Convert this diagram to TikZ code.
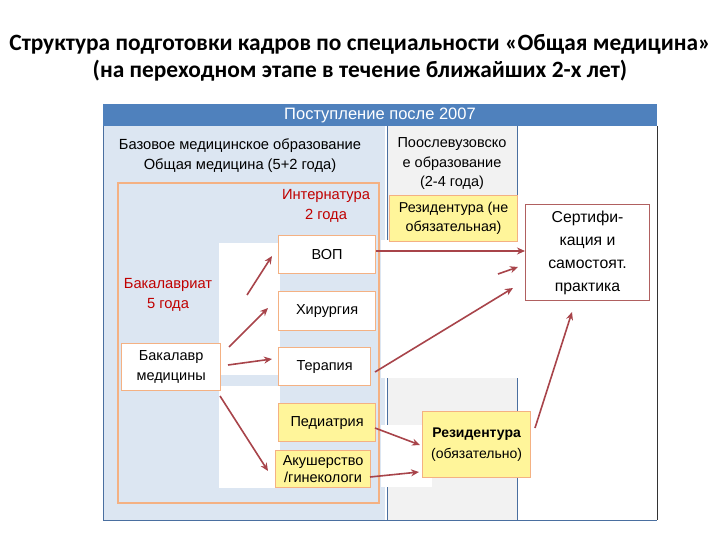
\documentclass[tikz,border=0pt]{standalone}
\usepackage{fontspec}
\setmainfont{Liberation Sans}
\newfontfamily\titlefont{Carlito}
\usetikzlibrary{arrows.meta}
\definecolor{hdrblue}{HTML}{4F81BD}
\definecolor{colblue}{HTML}{DCE6F2}
\definecolor{colgray}{HTML}{F2F2F2}
\definecolor{lineblue}{HTML}{4A6FA0}
\definecolor{orng}{HTML}{F4B183}
\definecolor{yel}{HTML}{FFF59A}
\definecolor{arr}{HTML}{A8444A}
\definecolor{redtxt}{HTML}{C00000}
\definecolor{certb}{HTML}{B06060}
\tikzset{
  specbox/.style={draw=orng, line width=1.2pt, fill=white, anchor=north west, inner sep=0pt, font=\fontsize{14.5}{17}\selectfont},
  yelbox/.style={specbox, fill=yel},
  arrline/.style={draw=arr, line width=1.6pt, -{Stealth[length=8pt,width=7pt]}},
  lbl/.style={inner sep=0pt, align=center, font=\fontsize{14.7}{20}\selectfont},
  redlbl/.style={lbl, text=redtxt},
}
\begin{document}
\begin{tikzpicture}[x=1pt,y=-1pt]
\useasboundingbox (0,0) rectangle (720,540);
\fill[white] (0,0) rectangle (720,540);
% title
\node[inner sep=0pt, font=\titlefont\bfseries\fontsize{23.4}{27}\selectfont, align=center] (title) at (360,58)
  {Структура подготовки кадров по специальности «Общая медицина»\\(на переходном этапе в течение ближайших 2-х лет)};
% columns
\fill[colblue] (103,126) rectangle (385,520);
\fill[colgray] (387,126) rectangle (517,520);
\fill[white] (517,126) rectangle (657,520);
\draw[lineblue, line width=1pt] (103,104) -- (103,520) -- (657,520);
\draw[black!80, line width=1pt] (657,126) -- (657,520);
\draw[lineblue, line width=1pt] (387,126) -- (387,520);
\draw[lineblue, line width=1pt] (517,126) -- (517,520);
% header
\fill[hdrblue] (103,104) rectangle (657,126);
\node[inner sep=0pt, text=white, font=\fontsize{16.5}{18}\selectfont] (hdr) at (380,115) {Поступление после 2007};
% column headings
\node[lbl] (base) at (240,156) {Базовое медицинское образование\\Общая медицина (5+2 года)};
\node[lbl, font=\fontsize{14.5}{19.5}\selectfont] (post) at (452,164) {Поослевузовско\\е образование\\(2-4 года)};
% inner container
\draw[orng, fill=colblue, line width=1.2pt] (118,183) rectangle (379,503);
\node[redlbl] (intern) at (326,206) {Интернатура\\2 года};
\node[redlbl] (bakal) at (168,295) {Бакалавриат\\5 года};
% white band over middle
\fill[white] (381,240) rectangle (657,378);
% white areas behind arrows
\fill[white] (219,243) rectangle (280,375);
\fill[white] (219,386) rectangle (280,488);
\fill[white] (381,425) rectangle (432,487);
% boxes
\node[specbox, fill=white, minimum width=99pt, minimum height=47pt, align=center, font=\fontsize{14.5}{20}\selectfont] (bach) at (121,343) {Бакалавр\\медицины};
\node[specbox, minimum width=97pt, minimum height=38pt] (vop) at (278,235) {ВОП};
\node[specbox, minimum width=97pt, minimum height=39pt] (hir) at (278,291) {Хирургия};
\node[specbox, minimum width=92pt, minimum height=38pt] (ter) at (278,347) {Терапия};
\node[yelbox, minimum width=97pt, minimum height=38pt] (ped) at (278,403) {Педиатрия};
\node[yelbox, minimum width=95pt, minimum height=37pt, align=center, font=\fontsize{14.5}{17.5}\selectfont] (aku) at (275,450) {Акушерство\\/гинекологи};
\node[yelbox, minimum width=128pt, minimum height=46pt, align=center, font=\fontsize{14.3}{19}\selectfont] (resne) at (389,195) {Резидентура (не\\обязательная)};
\node[yelbox, minimum width=108pt, minimum height=66pt, align=center, font=\fontsize{14}{20.5}\selectfont] (resob) at (422,411) {\textbf{Резидентура}\\(обязательно)};
\node[draw=certb, line width=1pt, fill=white, anchor=north west, inner sep=0pt, minimum width=124pt, minimum height=96pt, align=center, font=\fontsize{15.8}{23}\selectfont] (cert) at (525,204) {Сертифи-\\кация и\\самостоят.\\практика};
% arrow anchors
\coordinate (a1s) at (247,295);
\coordinate (a1e) at (272,256);
\coordinate (a2s) at (229,347);
\coordinate (a2e) at (268,308);
\coordinate (a3s) at (228,365);
\coordinate (a3e) at (272,359);
\coordinate (a4s) at (220,396);
\coordinate (a4e) at (268,471);
\coordinate (st1) at (498,274);
\coordinate (st1e) at (518,267);
\coordinate (vopr) at (vop.east |- 0,251);
\coordinate (certl) at (cert.west |- 0,251);
\coordinate (terr) at (375,372);
\coordinate (tere) at (513,288);
\coordinate (pedr) at (375,428);
\coordinate (pede) at (420,445);
\coordinate (akur) at (370,477);
\coordinate (akue) at (419,472);
\coordinate (resr) at (535,428);
\coordinate (rese) at (572,312);
% arrows
\draw[arrline] (a1s) -- (a1e);
\draw[arrline] (a2s) -- (a2e);
\draw[arrline] (a3s) -- (a3e);
\draw[arrline] (a4s) -- (a4e);
\draw[arrline] (vopr) -- (certl);
\draw[arrline] (st1) -- (st1e);
\draw[arrline] (terr) -- (tere);
\draw[arrline] (pedr) -- (pede);
\draw[arrline] (akur) -- (akue);
\draw[arrline] (resr) -- (rese);
\end{tikzpicture}
\end{document}
